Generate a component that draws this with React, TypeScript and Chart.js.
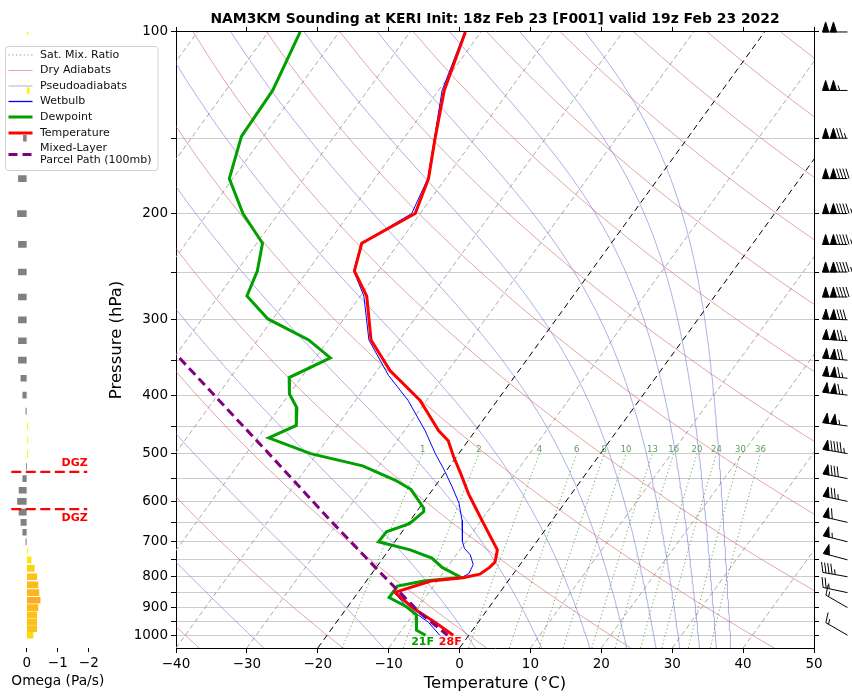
import React, { useEffect, useRef } from 'react';
import { Chart, registerables } from 'chart.js';

Chart.register(...registerables);

const FONT = "'DejaVu Sans', sans-serif";
const TITLE = 'NAM3KM Sounding at KERI Init: 18z Feb 23 [F001] valid 19z Feb 23 2022';

// ---------------- data ----------------
const TEMP_P = [100, 125, 150, 175, 200, 224, 249, 274, 324, 364, 408, 458, 476, 506, 538, 583, 620, 645, 696, 722, 756, 772, 792, 803, 813, 849, 902, 952, 1000];
const TEMP_C = [-62.2, -59.2, -55.6, -52.4, -50.7, -55.2, -53.4, -49.1, -44.0, -38.2, -30.9, -25.2, -22.8, -20.4, -17.8, -14.5, -11.7, -9.9, -6.4, -4.7, -3.8, -4.0, -4.7, -6.7, -10.9, -14.8, -10.6, -6.1, -2.2];

const DEW_P = [100, 125, 149, 175, 200, 224, 249, 274, 299, 324, 347, 374, 398, 420, 449, 471, 500, 524, 553, 573, 615, 624, 653, 674, 700, 722, 745, 772, 802, 813, 829, 866, 897, 925, 981, 1000];
const DEW_C = [-85.5, -83.4, -83.1, -80.5, -75.0, -69.2, -67.1, -66.0, -60.7, -52.8, -47.9, -51.7, -50.0, -47.5, -45.8, -48.4, -40.9, -32.3, -26.3, -23.1, -19.4, -19.0, -19.8, -22.2, -22.3, -17.0, -13.1, -10.7, -7.0, -11.9, -15.1, -15.1, -11.7, -9.5, -7.9, -6.1];

const WB_P = [100, 125, 150, 175, 200, 224, 249, 274, 324, 371, 408, 458, 500, 532, 568, 604, 645, 699, 718, 736, 764, 790, 800, 813, 849, 897, 952, 1000];
const WB_C = [-62.3, -59.5, -55.7, -52.5, -51.2, -55.3, -53.5, -49.5, -44.3, -37.9, -32.6, -27.1, -23.3, -20.4, -17.5, -14.9, -12.7, -10.5, -9.5, -8.0, -6.6, -6.3, -6.8, -11.3, -14.9, -11.7, -7.0, -4.1];

const PARCEL_P = [320, 343, 499, 645, 786, 918, 1000];
const PARCEL_C = [-73.9, -69.9, -46.9, -31.3, -19.0, -9.2, -3.0];

const OMEGA_P = [100, 125, 150, 175, 200, 225, 250, 275, 300, 325, 350, 375, 400, 425, 450, 475, 500, 525, 550, 575, 600, 625, 650, 675, 700, 725, 750, 775, 800, 825, 850, 875, 900, 925, 950, 975, 1000];
const OMEGA = [-0.04, -0.08, 0.11, 0.27, 0.30, 0.27, 0.27, 0.27, 0.27, 0.27, 0.27, 0.19, 0.13, 0.03, -0.03, -0.03, -0.03, 0.01, 0.13, 0.25, 0.30, 0.25, 0.19, 0.13, 0.03, -0.03, -0.14, -0.24, -0.32, -0.36, -0.39, -0.43, -0.36, -0.32, -0.32, -0.32, -0.20];

const BARB_P = [100, 125, 150, 175, 200, 225, 250, 275, 300, 325, 350, 375, 400, 450, 500, 550, 600, 650, 700, 750, 800, 850, 900, 1000];
const BARB_SPD = [100, 105, 125, 140, 145, 145, 145, 140, 130, 125, 120, 115, 115, 105, 95, 80, 75, 60, 55, 50, 45, 25, 15, 15];
const BARB_DIR = [270, 270, 270, 270, 270, 270, 270, 270, 272, 274, 275, 276, 277, 278, 280, 281, 282, 283, 284, 285, 280, 282, 300, 300];

const DGZ_P = [536, 618];
const SFC_LABELS = ['21F', '28F'];

const X_TICKS = [-40, -30, -20, -10, 0, 10, 20, 30, 40, 50];
const P_TICKS = [100, 150, 200, 250, 300, 350, 400, 450, 500, 550, 600, 650, 700, 750, 800, 850, 900, 950, 1000];
const OMEGA_TICKS = [-2, -1, 0];

const MIX_RATIOS = [1, 2, 4, 6, 8, 10, 13, 16, 20, 24, 30, 36];
const DRY_THETA = [-40, -20, 0, 20, 40, 60, 80, 100, 120, 140, 160, 180, 200, 220];
const PSEUDO_THETA_E = [-30, -10, 10, 30, 50, 70, 90, 110, 130, 150, 170];
const ISOTHERMS = [-110, -100, -90, -80, -70, -60, -50, -40, -30, -10, 10, 20, 30, 40, 50];
const KEY_ISOTHERMS = [-20, 0];

const LEGEND_LABELS = [['Sat. Mix. Ratio'], ['Dry Adiabats'], ['Pseudoadiabats'], ['Wetbulb'], ['Dewpoint'], ['Temperature'], ['Mixed-Layer', 'Parcel Path (100mb)']];

// ---------------- skew-T geometry ----------------
const P_BOTTOM = 1050;
const P_TOP = 100;
const T_MIN = -40;
const T_MAX = 50;
const SKEW_DEG = 35;
const SKEW = ((T_MAX - T_MIN) * Math.tan((SKEW_DEG * Math.PI) / 180)) / Math.log10(P_BOTTOM / P_TOP);
const skewX = (t: number, p: number) => t + SKEW * Math.log10(P_BOTTOM / p);

const profile = (ps: number[], ts: number[]) => ps.map((p, i) => ({ x: skewX(ts[i], p), y: p }));

const SAMPLE_P: number[] = [];
for (let p = P_BOTTOM; p >= P_TOP; p -= 10) SAMPLE_P.push(p);

const esat = (tc: number) => 6.112 * Math.exp((17.67 * tc) / (tc + 243.5));
function thetaE(p: number, tk: number) {
  const e = esat(tk - 273.15);
  if (e > 0.5 * p) return 1e9;
  const r = (1000 * 0.622 * e) / (p - e);
  return tk * Math.pow(1000 / p, 0.2854 * (1 - 0.00028 * r)) * Math.exp((3.376 / tk - 0.00254) * r * (1 + 0.00081 * r));
}
function tempForThetaE(p: number, th: number) {
  let lo = 120;
  let hi = 360;
  for (let i = 0; i < 50; i++) {
    const mid = (lo + hi) / 2;
    if (thetaE(p, mid) > th) hi = mid;
    else lo = mid;
  }
  return (lo + hi) / 2 - 273.15;
}
const dewFromMix = (p: number, w: number) => {
  const e = (p * w) / (622 + w);
  const l = Math.log(e / 6.112);
  return (243.5 * l) / (17.67 - l);
};

const fmtMinus = (v: any) => {
  const n = Number(v);
  return n < 0 ? '\u2212' + Math.abs(n) : String(n);
};

const COLORS = {
  temp: '#ff0000',
  dew: '#00a000',
  wb: '#0000ff',
  parcel: '#800080',
  dry: 'rgba(205,92,92,0.55)',
  moist: 'rgba(110,110,215,0.55)',
  mix: 'rgba(60,150,60,0.8)',
  iso: '#aaaaaa',
  keyIso: '#000000',
  grid: '#cccccc',
};

function omegaColor(v: number) {
  if (v > 0) return '#808080';
  const t = Math.min(1, Math.abs(v) / 0.5);
  const r = Math.round(255 - 5 * t);
  const g = Math.round(255 - 95 * t);
  const b = Math.round(0 + 40 * t);
  return `rgb(${r},${g},${b})`;
}

function buildDatasets() {
  const ds: any[] = [];
  const base = { showLine: true, pointRadius: 0, fill: false, tension: 0 };
  ds.push({ ...base, label: 'Mixed-Layer Parcel Path (100mb)', data: profile(PARCEL_P, PARCEL_C), borderColor: COLORS.parcel, borderWidth: 3, borderDash: [9, 5], order: 1 });
  ds.push({ ...base, label: 'Temperature', data: profile(TEMP_P, TEMP_C), borderColor: COLORS.temp, borderWidth: 3, order: 2 });
  ds.push({ ...base, label: 'Dewpoint', data: profile(DEW_P, DEW_C), borderColor: COLORS.dew, borderWidth: 3, order: 3 });
  ds.push({ ...base, label: 'Wetbulb', data: profile(WB_P, WB_C), borderColor: COLORS.wb, borderWidth: 1, order: 4 });
  KEY_ISOTHERMS.forEach((t) => {
    ds.push({ ...base, label: 'iso', data: [{ x: skewX(t, P_BOTTOM), y: P_BOTTOM }, { x: skewX(t, P_TOP), y: P_TOP }], borderColor: COLORS.keyIso, borderWidth: 1, borderDash: [6, 4], order: 10 });
  });
  MIX_RATIOS.forEach((w) => {
    const pts = SAMPLE_P.filter((p) => p >= 500).map((p) => ({ x: skewX(dewFromMix(p, w), p), y: p }));
    ds.push({ ...base, label: 'mix', data: pts, borderColor: COLORS.mix, borderWidth: 1, borderDash: [1.2, 2.6], order: 11 });
  });
  DRY_THETA.forEach((th) => {
    const pts = SAMPLE_P.map((p) => ({ x: skewX((th + 273.15) * Math.pow(p / 1000, 0.2857) - 273.15, p), y: p }));
    ds.push({ ...base, label: 'dry', data: pts, borderColor: COLORS.dry, borderWidth: 1, order: 12 });
  });
  PSEUDO_THETA_E.forEach((th) => {
    const pts = SAMPLE_P.map((p) => ({ x: skewX(tempForThetaE(p, th + 273.15), p), y: p }));
    ds.push({ ...base, label: 'moist', data: pts, borderColor: COLORS.moist, borderWidth: 1, order: 13 });
  });
  ISOTHERMS.forEach((t) => {
    ds.push({ ...base, label: 'iso', data: [{ x: skewX(t, P_BOTTOM), y: P_BOTTOM }, { x: skewX(t, P_TOP), y: P_TOP }], borderColor: COLORS.iso, borderWidth: 1, borderDash: [5, 3], order: 14 });
  });
  return ds;
}

function drawBarb(ctx: CanvasRenderingContext2D, x0: number, y0: number, dirDeg: number, spd: number, L: number) {
  const rad = (dirDeg * Math.PI) / 180;
  const dx = Math.sin(rad);
  const dy = -Math.cos(rad);
  const px = -dy;
  const py = dx;
  let rem = Math.round(spd / 5) * 5;
  const nFlags = Math.floor(rem / 50);
  rem -= nFlags * 50;
  const nFull = Math.floor(rem / 10);
  rem -= nFull * 10;
  const half = rem >= 5;
  const height = 0.4 * L;
  const width = 0.25 * L;
  const spacing = 0.125 * L;
  const pt = (a: number, b: number) => [x0 + dx * a + px * b, y0 + dy * a + py * b];
  ctx.beginPath();
  ctx.moveTo(x0, y0);
  const tip = pt(L, 0);
  ctx.lineTo(tip[0], tip[1]);
  ctx.stroke();
  let off = L;
  for (let i = 0; i < nFlags; i++) {
    if (off !== L) off += spacing / 2;
    const a = pt(off, 0);
    const b = pt(off - width / 2, height);
    const c = pt(off - width, 0);
    ctx.beginPath();
    ctx.moveTo(a[0], a[1]);
    ctx.lineTo(b[0], b[1]);
    ctx.lineTo(c[0], c[1]);
    ctx.closePath();
    ctx.fill();
    ctx.stroke();
    off -= width + spacing;
  }
  for (let i = 0; i < nFull; i++) {
    const a = pt(off, 0);
    const b = pt(off + width / 2, height);
    ctx.beginPath();
    ctx.moveTo(a[0], a[1]);
    ctx.lineTo(b[0], b[1]);
    ctx.stroke();
    off -= spacing;
  }
  if (half) {
    if (off === L) off -= 1.5 * spacing;
    const a = pt(off, 0);
    const b = pt(off + width / 4, height / 2);
    ctx.beginPath();
    ctx.moveTo(a[0], a[1]);
    ctx.lineTo(b[0], b[1]);
    ctx.stroke();
  }
}

const overlayPlugin = {
  id: 'skewOverlay',
  afterDatasetsDraw(chart: any) {
    const { ctx, chartArea } = chart;
    const xs = chart.scales.x;
    const ys = chart.scales.y;
    ctx.save();
    // mixing ratio labels
    ctx.font = `8.5px ${FONT}`;
    ctx.fillStyle = 'rgb(90,160,90)';
    ctx.textAlign = 'center';
    ctx.textBaseline = 'bottom';
    MIX_RATIOS.forEach((w) => {
      const x = xs.getPixelForValue(skewX(dewFromMix(500, w), 500));
      const y = ys.getPixelForValue(500);
      ctx.fillText(String(w), x, y);
    });
    // surface labels
    ctx.font = `bold 11px ${FONT}`;
    ctx.textBaseline = 'middle';
    const ps = DEW_P[DEW_P.length - 1];
    const xd = xs.getPixelForValue(skewX(DEW_C[DEW_C.length - 1], ps));
    const pt = TEMP_P[TEMP_P.length - 1];
    const xt = xs.getPixelForValue(skewX(TEMP_C[TEMP_C.length - 1], pt));
    const ysf = ys.getPixelForValue(ps) + 7;
    ctx.fillStyle = COLORS.dew;
    ctx.fillText(SFC_LABELS[0], xd - 3, ysf);
    ctx.fillStyle = COLORS.temp;
    ctx.fillText(SFC_LABELS[1], xt - 3, ysf);
    ctx.restore();

    // wind barbs
    ctx.save();
    ctx.strokeStyle = '#000';
    ctx.fillStyle = '#000';
    ctx.lineWidth = 1;
    const ax = chartArea.right + 33.5;
    BARB_P.forEach((p, i) => {
      drawBarb(ctx, ax, ys.getPixelForValue(p), BARB_DIR[i], BARB_SPD[i], 25);
    });
    ctx.restore();

    // legend
    ctx.save();
    const bx = 5.5;
    const by = 46.5;
    const bw = 152.5;
    const bh = 124;
    ctx.beginPath();
    ctx.roundRect(bx, by, bw, bh, 3);
    ctx.fillStyle = 'rgba(255,255,255,0.8)';
    ctx.fill();
    ctx.strokeStyle = '#d0d0d0';
    ctx.lineWidth = 1;
    ctx.stroke();
    const styles = [
      { c: COLORS.mix, w: 1, d: [1.2, 2.6] },
      { c: COLORS.dry, w: 1, d: [] },
      { c: COLORS.moist, w: 1, d: [] },
      { c: COLORS.wb, w: 1.3, d: [] },
      { c: COLORS.dew, w: 3, d: [] },
      { c: COLORS.temp, w: 3, d: [] },
      { c: COLORS.parcel, w: 3, d: [9, 5] },
    ];
    const rows = [55, 70.5, 86, 101.5, 117, 133, 148.5];
    ctx.font = `11px ${FONT}`;
    ctx.textAlign = 'left';
    ctx.textBaseline = 'middle';
    LEGEND_LABELS.forEach((lab, i) => {
      const y = rows[i];
      const ly = lab.length > 1 ? y + 6 : y;
      ctx.beginPath();
      ctx.strokeStyle = styles[i].c;
      ctx.lineWidth = styles[i].w;
      ctx.setLineDash(styles[i].d);
      ctx.moveTo(8.5, ly);
      ctx.lineTo(32.5, ly);
      ctx.stroke();
      ctx.setLineDash([]);
      ctx.fillStyle = '#111';
      lab.forEach((t, j) => ctx.fillText(t, 40, y + j * 12));
    });
    ctx.restore();
  },
};

const dgzPlugin = {
  id: 'dgz',
  afterDatasetsDraw(chart: any) {
    const { ctx } = chart;
    const xs = chart.scales.x;
    const ys = chart.scales.y;
    ctx.save();
    ctx.strokeStyle = '#ff0000';
    ctx.lineWidth = 2.3;
    ctx.setLineDash([10, 4.5]);
    const x1 = xs.getPixelForValue(0.5);
    const x2 = xs.getPixelForValue(-1.95);
    DGZ_P.forEach((p, i) => {
      const y = ys.getPixelForValue(p);
      ctx.beginPath();
      ctx.moveTo(x1, y);
      ctx.lineTo(x2, y);
      ctx.stroke();
      ctx.font = `bold 11px ${FONT}`;
      ctx.fillStyle = '#ff0000';
      ctx.textAlign = 'right';
      ctx.textBaseline = 'middle';
      ctx.fillText('DGZ', x2 + 0.5, i === 0 ? y - 9 : y + 9.5);
    });
    ctx.restore();
  },
};

const tickFont = { size: 13.5, family: FONT };

export default function App() {
  const mainRef = useRef<HTMLCanvasElement>(null);
  const omegaRef = useRef<HTMLCanvasElement>(null);

  useEffect(() => {
    Chart.defaults.font.family = FONT;
    const setXTicks = (s: any) => {
      s.ticks = X_TICKS.map((v) => ({ value: v }));
    };
    const setPTicks = (s: any) => {
      s.ticks = P_TICKS.map((v) => ({ value: v }));
    };
    const main = new Chart(mainRef.current as HTMLCanvasElement, {
      type: 'scatter',
      data: { datasets: buildDatasets() },
      options: {
        responsive: false,
        animation: false,
        devicePixelRatio: 1,
        events: [],
        layout: { padding: 0 },
        scales: {
          x: {
            type: 'linear',
            position: 'bottom',
            min: T_MIN,
            max: T_MAX,
            afterBuildTicks: setXTicks,
            afterFit: (s: any) => {
              s.height = 52;
            },
            ticks: { callback: fmtMinus, color: '#000', font: tickFont, padding: 3, maxRotation: 0, autoSkip: false },
            grid: { drawOnChartArea: false, drawTicks: true, tickLength: 5, tickColor: '#000', tickWidth: 1 },
            border: { display: true, color: '#000', width: 1 },
            title: { display: true, text: 'Temperature (°C)', color: '#000', font: { size: 16.5, family: FONT }, padding: { top: 0, bottom: 6 } },
          },
          xTop: {
            axis: 'x',
            type: 'linear',
            position: 'top',
            min: T_MIN,
            max: T_MAX,
            afterBuildTicks: setXTicks,
            afterFit: (s: any) => {
              s.height = 4;
            },
            ticks: { callback: () => '', autoSkip: false, padding: 0 },
            grid: { drawOnChartArea: false, drawTicks: true, tickLength: 5, tickColor: '#000', tickWidth: 1 },
            border: { display: true, color: '#000', width: 1 },
          },
          y: {
            type: 'logarithmic',
            position: 'left',
            min: P_TOP,
            max: P_BOTTOM,
            reverse: true,
            afterBuildTicks: setPTicks,
            afterFit: (s: any) => {
              s.width = 176;
            },
            ticks: { callback: (v: any) => (Number(v) % 100 === 0 ? String(v) : ''), color: '#000', font: tickFont, padding: 3, autoSkip: false },
            grid: { color: COLORS.grid, lineWidth: 1, drawTicks: true, tickLength: 5, tickColor: '#000', tickWidth: 1 },
            border: { display: true, color: '#000', width: 1 },
            title: { display: true, text: 'Pressure (hPa)', color: '#000', font: { size: 16.5, family: FONT }, padding: { top: 107, bottom: 0 } },
          },
          yRight: {
            axis: 'y',
            type: 'logarithmic',
            position: 'right',
            min: P_TOP,
            max: P_BOTTOM,
            reverse: true,
            afterBuildTicks: setPTicks,
            afterFit: (s: any) => {
              s.width = 38;
            },
            ticks: { callback: () => '', autoSkip: false, padding: 0 },
            grid: { drawOnChartArea: false, drawTicks: true, tickLength: 5, tickColor: '#000', tickWidth: 1 },
            border: { display: true, color: '#000', width: 1 },
          },
        },
        plugins: {
          legend: { display: false },
          tooltip: { enabled: false },
          title: {
            display: true,
            text: TITLE,
            fullSize: false,
            color: '#000',
            font: { size: 13.9, weight: 'bold', family: FONT },
            padding: { top: 11.3, bottom: 0 },
          },
        },
      } as any,
      plugins: [overlayPlugin],
    } as any);

    const omega = new Chart(omegaRef.current as HTMLCanvasElement, {
      type: 'bar',
      data: {
        datasets: [
          {
            label: 'Omega',
            data: OMEGA_P.map((p, i) => ({ x: OMEGA[i], y: p })),
            backgroundColor: OMEGA.map(omegaColor),
            borderWidth: 0,
            barThickness: 6,
          },
        ],
      },
      options: {
        indexAxis: 'y',
        responsive: false,
        animation: false,
        devicePixelRatio: 1,
        events: [],
        layout: { padding: { left: 11.3, right: 65.7, top: 32, bottom: 0 } },
        scales: {
          y: { type: 'logarithmic', min: P_TOP, max: P_BOTTOM, reverse: true, display: false, offset: false },
          x: {
            type: 'linear',
            position: 'bottom',
            min: -2.5,
            max: 0.5,
            reverse: true,
            afterBuildTicks: (s: any) => {
              s.ticks = OMEGA_TICKS.map((v) => ({ value: v }));
            },
            afterFit: (s: any) => {
              s.height = 52;
            },
            ticks: { callback: fmtMinus, color: '#000', font: tickFont, padding: 3, maxRotation: 0, autoSkip: false },
            grid: { drawOnChartArea: false, drawTicks: true, tickLength: 4, tickColor: '#000', tickWidth: 1 },
            border: { display: false },
            title: { display: true, text: 'Omega (Pa/s)', color: '#000', font: { size: 13.9, family: FONT }, padding: { top: 0, bottom: 10 } },
          },
        },
        plugins: { legend: { display: false }, tooltip: { enabled: false } },
      } as any,
      plugins: [dgzPlugin],
    } as any);

    return () => {
      main.destroy();
      omega.destroy();
    };
  }, []);

  return (
    <div style={{ position: 'absolute', left: 0, top: 0, width: 852, height: 700, background: '#ffffff' }}>
      <canvas ref={mainRef} width={852} height={700} style={{ position: 'absolute', left: 0, top: 0, width: 852, height: 700 }} />
      <canvas ref={omegaRef} width={170} height={700} style={{ position: 'absolute', left: 0, top: 0, width: 170, height: 700 }} />
    </div>
  );
}
